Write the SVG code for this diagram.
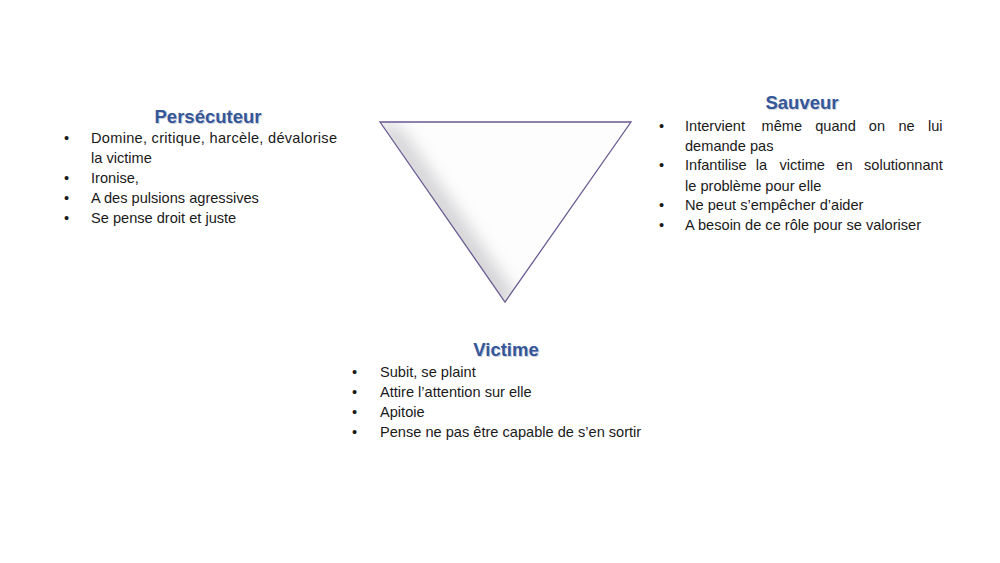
<svg xmlns="http://www.w3.org/2000/svg" width="1000" height="563" viewBox="0 0 1000 563">
<style>
.t{font-family:"Liberation Sans",Arial,sans-serif;font-size:14.6px;fill:#1a1a1a}
.h{font-family:"Liberation Sans",Arial,sans-serif;font-size:18.5px;font-weight:bold;fill:#34579a;text-anchor:middle}
.hs{font-family:"Liberation Sans",Arial,sans-serif;font-size:18.5px;font-weight:bold;fill:#cfcfd6;text-anchor:middle}
</style>
<defs>
<clipPath id="tc"><polygon points="380,122 631,122 505,302"/></clipPath>
<filter id="bl" x="-20%" y="-20%" width="140%" height="140%"><feGaussianBlur stdDeviation="8"/></filter>
</defs>
<rect width="1000" height="563" fill="#ffffff"/>
<g id="triangle">
<polygon points="380,122 631,122 505,302" fill="#fdfdfd"/>
<g clip-path="url(#tc)">
<polygon points="370,116 402,130 516,296 500,312" fill="#c4c4c8" filter="url(#bl)" opacity="0.75"/>
<line x1="380" y1="120" x2="631" y2="120" stroke="#ffffff" stroke-width="14" filter="url(#bl)"/>
</g>
<polygon points="380,122 631,122 505,302" fill="none" stroke="#6a5a92" stroke-width="1.3"/>
</g>
<g id="persecuteur">
<text class="hs" x="209" y="124">Persécuteur</text>
<text class="h" x="208" y="123">Persécuteur</text>
<text class="t" x="64" y="143">•</text>
<text class="t" x="91" y="143" textLength="246">Domine, critique, harcèle, dévalorise</text>
<text class="t" x="91" y="163">la victime</text>
<text class="t" x="64" y="183">•</text>
<text class="t" x="91" y="183">Ironise,</text>
<text class="t" x="64" y="203">•</text>
<text class="t" x="91" y="203">A des pulsions agressives</text>
<text class="t" x="64" y="223">•</text>
<text class="t" x="91" y="223">Se pense droit et juste</text>
</g>
<g id="sauveur">
<text class="hs" x="803" y="110">Sauveur</text>
<text class="h" x="802" y="109">Sauveur</text>
<text class="t" x="659" y="131">•</text>
<text class="t" y="131"><tspan x="685">Intervient</tspan><tspan x="761.6">même</tspan><tspan x="815.2">quand</tspan><tspan x="868.8">on</tspan><tspan x="898.4">ne</tspan><tspan x="928">lui</tspan></text>
<text class="t" x="685" y="151">demande pas</text>
<text class="t" x="659" y="170">•</text>
<text class="t" y="170"><tspan x="685">Infantilise</tspan><tspan x="755.8">la</tspan><tspan x="779.5">victime</tspan><tspan x="836.3">en</tspan><tspan x="864">solutionnant</tspan></text>
<text class="t" x="685" y="191">le problème pour elle</text>
<text class="t" x="659" y="210">•</text>
<text class="t" x="685" y="210">Ne peut s’empêcher  d’aider</text>
<text class="t" x="659" y="230">•</text>
<text class="t" x="685" y="230">A besoin de ce rôle pour se valoriser</text>
</g>
<g id="victime">
<text class="hs" x="507" y="357">Victime</text>
<text class="h" x="506" y="356">Victime</text>
<text class="t" x="352" y="377">•</text>
<text class="t" x="380" y="377">Subit, se plaint</text>
<text class="t" x="352" y="397">•</text>
<text class="t" x="380" y="397">Attire l’attention sur elle</text>
<text class="t" x="352" y="417">•</text>
<text class="t" x="380" y="417">Apitoie</text>
<text class="t" x="352" y="437">•</text>
<text class="t" x="380" y="437">Pense ne pas être capable de s’en sortir</text>
</g>
<g id="connectors"></g>
</svg>
